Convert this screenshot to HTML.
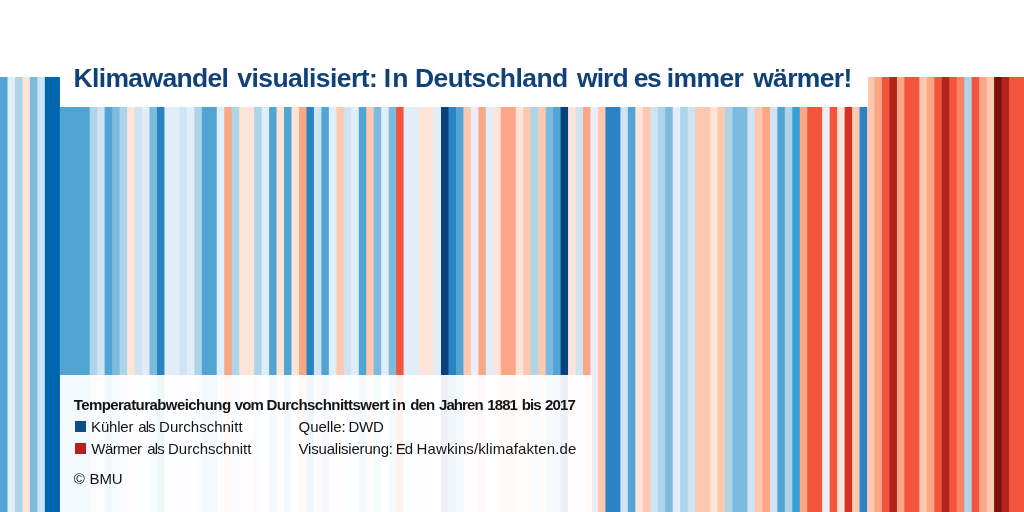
<!DOCTYPE html>
<html lang="de"><head><meta charset="utf-8"><title>Klimawandel visualisiert</title>
<style>
html,body{margin:0;padding:0;}
body{width:1024px;height:512px;overflow:hidden;background:#fff;position:relative;font-family:"Liberation Sans","DejaVu Sans",sans-serif;}
.st{position:absolute;left:0;top:77px;display:block;}
.title{position:absolute;left:60px;top:40px;width:808px;height:67px;background:#fff;}
.leg{position:absolute;left:60px;top:375px;width:532px;height:137px;background:rgba(255,255,255,0.935);}
.w{position:absolute;white-space:nowrap;display:block;}
.t{font-size:26.5px;line-height:26.5px;color:#10427a;}
.l{font-size:15px;line-height:15px;color:#141414;}
.b{font-weight:bold;}
.tx{position:absolute;left:0;top:0;width:1024px;height:512px;will-change:transform;}
.sq{position:absolute;width:11px;height:10.5px;left:75px;}
</style></head><body>
<svg class="st" width="1024" height="435" viewBox="0 0 1024 435"><rect x="0.000" y="0" width="8.474" height="435" fill="#51a4d3"/><rect x="7.474" y="0" width="8.474" height="435" fill="#e1eefa"/><rect x="14.949" y="0" width="8.474" height="435" fill="#add4e8"/><rect x="22.423" y="0" width="8.474" height="435" fill="#fde4d9"/><rect x="29.898" y="0" width="8.474" height="435" fill="#7dbbde"/><rect x="37.372" y="0" width="8.474" height="435" fill="#cfe3f3"/><rect x="44.847" y="0" width="15.949" height="435" fill="#0066ae"/><rect x="59.796" y="0" width="30.898" height="435" fill="#51a4d3"/><rect x="89.693" y="0" width="8.474" height="435" fill="#add4e8"/><rect x="97.168" y="0" width="8.474" height="435" fill="#cfe3f3"/><rect x="104.642" y="0" width="8.474" height="435" fill="#51a4d3"/><rect x="112.117" y="0" width="8.474" height="435" fill="#7dbbde"/><rect x="119.591" y="0" width="8.474" height="435" fill="#add4e8"/><rect x="127.066" y="0" width="8.474" height="435" fill="#fde4d9"/><rect x="134.540" y="0" width="8.474" height="435" fill="#cfe3f3"/><rect x="142.015" y="0" width="8.474" height="435" fill="#e1eefa"/><rect x="149.489" y="0" width="8.474" height="435" fill="#7dbbde"/><rect x="156.964" y="0" width="8.474" height="435" fill="#2a83c2"/><rect x="164.438" y="0" width="15.949" height="435" fill="#e1eefa"/><rect x="179.387" y="0" width="8.474" height="435" fill="#cfe3f3"/><rect x="186.861" y="0" width="8.474" height="435" fill="#e1eefa"/><rect x="194.336" y="0" width="8.474" height="435" fill="#add4e8"/><rect x="201.810" y="0" width="15.949" height="435" fill="#51a4d3"/><rect x="216.759" y="0" width="8.474" height="435" fill="#e1eefa"/><rect x="224.234" y="0" width="8.474" height="435" fill="#fba685"/><rect x="231.708" y="0" width="8.474" height="435" fill="#add4e8"/><rect x="239.182" y="0" width="15.949" height="435" fill="#fde4d9"/><rect x="254.131" y="0" width="8.474" height="435" fill="#add4e8"/><rect x="261.606" y="0" width="8.474" height="435" fill="#e1eefa"/><rect x="269.080" y="0" width="8.474" height="435" fill="#51a4d3"/><rect x="276.555" y="0" width="8.474" height="435" fill="#fde4d9"/><rect x="284.029" y="0" width="8.474" height="435" fill="#51a4d3"/><rect x="291.504" y="0" width="8.474" height="435" fill="#fde4d9"/><rect x="298.978" y="0" width="8.474" height="435" fill="#fba685"/><rect x="306.453" y="0" width="8.474" height="435" fill="#2a83c2"/><rect x="313.927" y="0" width="8.474" height="435" fill="#cfe3f3"/><rect x="321.401" y="0" width="8.474" height="435" fill="#51a4d3"/><rect x="328.876" y="0" width="8.474" height="435" fill="#e1eefa"/><rect x="336.350" y="0" width="8.474" height="435" fill="#fcc8b0"/><rect x="343.825" y="0" width="8.474" height="435" fill="#cfe3f3"/><rect x="351.299" y="0" width="8.474" height="435" fill="#e1eefa"/><rect x="358.774" y="0" width="8.474" height="435" fill="#51a4d3"/><rect x="366.248" y="0" width="8.474" height="435" fill="#fcc8b0"/><rect x="373.723" y="0" width="8.474" height="435" fill="#7dbbde"/><rect x="381.197" y="0" width="8.474" height="435" fill="#e1eefa"/><rect x="388.672" y="0" width="8.474" height="435" fill="#7dbbde"/><rect x="396.146" y="0" width="8.474" height="435" fill="#f2553c"/><rect x="403.620" y="0" width="15.949" height="435" fill="#e1eefa"/><rect x="418.569" y="0" width="15.949" height="435" fill="#fde4d9"/><rect x="433.518" y="0" width="8.474" height="435" fill="#e1eefa"/><rect x="440.993" y="0" width="8.474" height="435" fill="#05427e"/><rect x="448.467" y="0" width="8.474" height="435" fill="#2a83c2"/><rect x="455.942" y="0" width="8.474" height="435" fill="#51a4d3"/><rect x="463.416" y="0" width="8.474" height="435" fill="#fcc8b0"/><rect x="470.891" y="0" width="8.474" height="435" fill="#ebeef8"/><rect x="478.365" y="0" width="8.474" height="435" fill="#fba685"/><rect x="485.839" y="0" width="8.474" height="435" fill="#e1eefa"/><rect x="493.314" y="0" width="8.474" height="435" fill="#fde4d9"/><rect x="500.788" y="0" width="15.949" height="435" fill="#fba685"/><rect x="515.737" y="0" width="8.474" height="435" fill="#fde4d9"/><rect x="523.212" y="0" width="8.474" height="435" fill="#fcc8b0"/><rect x="530.686" y="0" width="8.474" height="435" fill="#add4e8"/><rect x="538.161" y="0" width="8.474" height="435" fill="#fcc8b0"/><rect x="545.635" y="0" width="8.474" height="435" fill="#7dbbde"/><rect x="553.109" y="0" width="8.474" height="435" fill="#51a4d3"/><rect x="560.584" y="0" width="8.474" height="435" fill="#05427e"/><rect x="568.058" y="0" width="8.474" height="435" fill="#fde4d9"/><rect x="575.533" y="0" width="8.474" height="435" fill="#cfe3f3"/><rect x="583.007" y="0" width="8.474" height="435" fill="#fba685"/><rect x="590.482" y="0" width="8.474" height="435" fill="#ebeef8"/><rect x="597.956" y="0" width="8.474" height="435" fill="#fcc8b0"/><rect x="605.431" y="0" width="15.949" height="435" fill="#2a83c2"/><rect x="620.380" y="0" width="8.474" height="435" fill="#cfe3f3"/><rect x="627.854" y="0" width="8.474" height="435" fill="#51a4d3"/><rect x="635.328" y="0" width="8.474" height="435" fill="#fde4d9"/><rect x="642.803" y="0" width="8.474" height="435" fill="#fcc8b0"/><rect x="650.277" y="0" width="8.474" height="435" fill="#cfe3f3"/><rect x="657.752" y="0" width="8.474" height="435" fill="#add4e8"/><rect x="665.226" y="0" width="8.474" height="435" fill="#7dbbde"/><rect x="672.701" y="0" width="8.474" height="435" fill="#e1eefa"/><rect x="680.175" y="0" width="8.474" height="435" fill="#add4e8"/><rect x="687.650" y="0" width="8.474" height="435" fill="#cfe3f3"/><rect x="695.124" y="0" width="15.949" height="435" fill="#fcc8b0"/><rect x="710.073" y="0" width="8.474" height="435" fill="#fde4d9"/><rect x="717.547" y="0" width="8.474" height="435" fill="#fcc8b0"/><rect x="725.022" y="0" width="8.474" height="435" fill="#add4e8"/><rect x="732.496" y="0" width="15.949" height="435" fill="#7dbbde"/><rect x="747.445" y="0" width="8.474" height="435" fill="#cfe3f3"/><rect x="754.920" y="0" width="8.474" height="435" fill="#fcc8b0"/><rect x="762.394" y="0" width="8.474" height="435" fill="#fba685"/><rect x="769.869" y="0" width="8.474" height="435" fill="#cfe3f3"/><rect x="777.343" y="0" width="8.474" height="435" fill="#51a4d3"/><rect x="784.818" y="0" width="8.474" height="435" fill="#add4e8"/><rect x="792.292" y="0" width="8.474" height="435" fill="#37a0d4"/><rect x="799.766" y="0" width="8.474" height="435" fill="#fba685"/><rect x="807.241" y="0" width="15.949" height="435" fill="#f2553c"/><rect x="822.190" y="0" width="8.474" height="435" fill="#ebeef8"/><rect x="829.664" y="0" width="8.474" height="435" fill="#f2553c"/><rect x="837.139" y="0" width="8.474" height="435" fill="#fde4d9"/><rect x="844.613" y="0" width="8.474" height="435" fill="#d3342a"/><rect x="852.088" y="0" width="8.474" height="435" fill="#fcc8b0"/><rect x="859.562" y="0" width="8.474" height="435" fill="#2a83c2"/><rect x="867.036" y="0" width="8.474" height="435" fill="#fcc8b0"/><rect x="874.511" y="0" width="8.474" height="435" fill="#fba685"/><rect x="881.985" y="0" width="8.474" height="435" fill="#f2553c"/><rect x="889.460" y="0" width="8.474" height="435" fill="#b2241c"/><rect x="896.934" y="0" width="8.474" height="435" fill="#fba685"/><rect x="904.409" y="0" width="15.949" height="435" fill="#f2553c"/><rect x="919.358" y="0" width="8.474" height="435" fill="#fcc8b0"/><rect x="926.832" y="0" width="8.474" height="435" fill="#fba685"/><rect x="934.307" y="0" width="8.474" height="435" fill="#f2553c"/><rect x="941.781" y="0" width="8.474" height="435" fill="#b2241c"/><rect x="949.255" y="0" width="8.474" height="435" fill="#f2553c"/><rect x="956.730" y="0" width="8.474" height="435" fill="#fb8262"/><rect x="964.204" y="0" width="8.474" height="435" fill="#add4e8"/><rect x="971.679" y="0" width="8.474" height="435" fill="#f2553c"/><rect x="979.153" y="0" width="8.474" height="435" fill="#fba685"/><rect x="986.628" y="0" width="8.474" height="435" fill="#fcc8b0"/><rect x="994.102" y="0" width="8.474" height="435" fill="#7a0e10"/><rect x="1001.577" y="0" width="8.474" height="435" fill="#b2241c"/><rect x="1009.051" y="0" width="14.949" height="435" fill="#f2553c"/></svg>
<div class="title"></div>
<div class="leg"></div>
<span class="sq" style="top:421.3px;background:#0f4c8a"></span>
<span class="sq" style="top:443.2px;background:#b5201c"></span>
<div class="tx">
<span class="w t b" style="left:73.60px;top:64.57px;letter-spacing:-0.663px">Klimawandel</span>
<span class="w t b" style="left:237.30px;top:64.57px;letter-spacing:-0.564px">visualisiert:</span>
<span class="w t b" style="left:383.82px;top:64.57px;letter-spacing:1.000px">In</span>
<span class="w t b" style="left:415.00px;top:64.57px;letter-spacing:-0.584px">Deutschland</span>
<span class="w t b" style="left:577.00px;top:64.57px;letter-spacing:-0.963px">wird</span>
<span class="w t b" style="left:633.83px;top:64.57px;letter-spacing:-1.590px">es</span>
<span class="w t b" style="left:666.80px;top:64.57px;letter-spacing:-0.607px">immer</span>
<span class="w t b" style="left:753.20px;top:64.57px;letter-spacing:-0.679px">wärmer!</span>
<span class="w l b" style="left:73.70px;top:397.30px;letter-spacing:-0.564px">Temperaturabweichung</span>
<span class="w l b" style="left:234.70px;top:397.30px;letter-spacing:-0.900px">vom</span>
<span class="w l b" style="left:266.40px;top:397.30px;letter-spacing:-0.537px">Durchschnittswert</span>
<span class="w l b" style="left:392.30px;top:397.30px;letter-spacing:0.333px">in</span>
<span class="w l b" style="left:410.30px;top:397.30px;letter-spacing:-0.900px">den</span>
<span class="w l b" style="left:438.94px;top:397.30px;letter-spacing:-0.900px">Jahren</span>
<span class="w l b" style="left:487.29px;top:397.30px;letter-spacing:-0.900px">1881</span>
<span class="w l b" style="left:521.68px;top:397.30px;letter-spacing:-0.900px">bis</span>
<span class="w l b" style="left:545.00px;top:397.30px;letter-spacing:-0.842px">2017</span>
<span class="w l" style="left:91.10px;top:419.20px;letter-spacing:-0.193px">Kühler</span>
<span class="w l" style="left:138.21px;top:419.20px;letter-spacing:-0.900px">als</span>
<span class="w l" style="left:159.10px;top:419.20px;letter-spacing:0.009px">Durchschnitt</span>
<span class="w l" style="left:298.60px;top:419.20px;letter-spacing:-0.077px">Quelle:</span>
<span class="w l" style="left:348.40px;top:419.20px;letter-spacing:-0.195px">DWD</span>
<span class="w l" style="left:91.30px;top:441.05px;letter-spacing:-0.507px">Wärmer</span>
<span class="w l" style="left:147.36px;top:441.05px;letter-spacing:-0.900px">als</span>
<span class="w l" style="left:168.00px;top:441.05px;letter-spacing:0.009px">Durchschnitt</span>
<span class="w l" style="left:298.60px;top:441.05px;letter-spacing:-0.208px">Visualisierung:</span>
<span class="w l" style="left:395.65px;top:441.05px;letter-spacing:-0.900px">Ed</span>
<span class="w l" style="left:416.60px;top:441.05px;letter-spacing:0.099px">Hawkins/klimafakten.de</span>
<span class="w l" style="left:73.70px;top:470.70px;letter-spacing:0.000px">©</span>
<span class="w l" style="left:89.60px;top:470.70px;letter-spacing:-0.150px">BMU</span>
</div>
</body></html>
